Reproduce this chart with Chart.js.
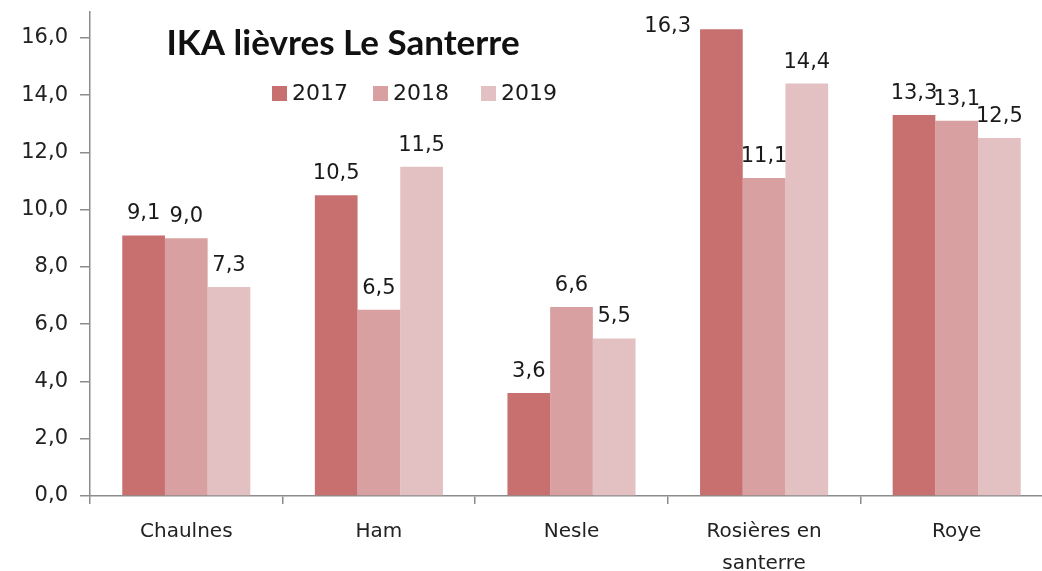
<!DOCTYPE html>
<html>
<head>
<meta charset="utf-8">
<script src="https://cdn.jsdelivr.net/npm/chart.js@4/dist/chart.umd.min.js"></script>
<style>
html,body{margin:0;padding:0;background:#fff;overflow:hidden}
#wrap{width:1056px;height:571px}
</style>
</head>
<body>
<div id="wrap"><canvas id="chart" width="1056" height="571"></canvas></div>
<script>
const title="IKA lièvres Le Santerre"
const categories=["Chaulnes","Ham","Nesle",["Rosières en","santerre"],"Roye"]
const years=["2017","2018","2019"]
const v2017=[9.1,10.5,3.6,16.3,13.3]
const v2018=[9.0,6.5,6.6,11.1,13.1]
const v2019=[7.3,11.5,5.5,14.4,12.5]
const yTicks=[0,2,4,6,8,10,12,14,16]
const colors=["#c87070","#d9a0a1","#e3c1c3"]

function fmt(v){return v.toFixed(1).replace(".",",")}

// valeurs au-dessus des barres (à gauche si pas de place en haut)
const labelsPlugin={
id:"labels",
afterDatasetsDraw(chart){
let ctx=chart.ctx
ctx.save()
ctx.font="21px 'DejaVu Sans'"
ctx.fillStyle="#1a1a1a"
ctx.textBaseline="alphabetic"
chart.data.datasets.forEach((ds,i)=>{
chart.getDatasetMeta(i).data.forEach((bar,j)=>{
let txt=fmt(ds.data[j])
let y=bar.y-16
if(y-18<0){
ctx.textAlign="right"
ctx.fillText(txt,bar.x-bar.width/2-9,bar.y+3)
}else{
ctx.textAlign="center"
ctx.fillText(txt,bar.x,y)
}
})
})
ctx.restore()
}
}

// titre et légende dans la zone du graphique
const titlePlugin={
id:"titleLegend",
afterDraw(chart){
let ctx=chart.ctx
ctx.save()
ctx.font="bold 35px Lato"
ctx.fillStyle="#111"
ctx.textAlign="center"
ctx.textBaseline="middle"
ctx.fillText(title,343,44)
ctx.font="22px 'DejaVu Sans'"
ctx.textAlign="left"
let xs=[272,373,481]
chart.data.datasets.forEach((ds,i)=>{
ctx.fillStyle=ds.backgroundColor
ctx.fillRect(xs[i],86,15,15)
ctx.fillStyle="#1a1a1a"
ctx.fillText(ds.label,xs[i]+20,94)
})
ctx.restore()
}
}

new Chart(document.getElementById("chart"),{
type:"bar",
data:{
labels:categories,
datasets:[
{label:years[0],data:v2017,backgroundColor:colors[0]},
{label:years[1],data:v2018,backgroundColor:colors[1]},
{label:years[2],data:v2019,backgroundColor:colors[2]}
]
},
options:{
responsive:false,
animation:false,
layout:{padding:{top:12,right:3,left:0,bottom:0}},
datasets:{bar:{categoryPercentage:0.665,barPercentage:1}},
plugins:{legend:{display:false},tooltip:{enabled:false}},
scales:{
x:{
grid:{offset:true,drawOnChartArea:false,color:"#8c8c8c",tickLength:8,lineWidth:1.5},
border:{color:"#8c8c8c",width:1.5},
ticks:{color:"#222",font:{family:"DejaVu Sans",size:20,lineHeight:1.6},padding:12,maxRotation:0,autoSkip:false},
afterFit(s){s.height=75}
},
y:{
min:0,max:16.9,
afterBuildTicks(s){s.ticks=yTicks.map(v=>({value:v}))},
grid:{drawOnChartArea:false,color:"#8c8c8c",tickLength:10,lineWidth:1.5},
border:{color:"#8c8c8c",width:1.5},
ticks:{color:"#222",font:{family:"DejaVu Sans",size:21},padding:12,callback:v=>fmt(v)},
afterFit(s){s.width=90;s.paddingTop=0;s.paddingBottom=0}
}
}
},
plugins:[labelsPlugin,titlePlugin]
})
</script>
</body>
</html>
